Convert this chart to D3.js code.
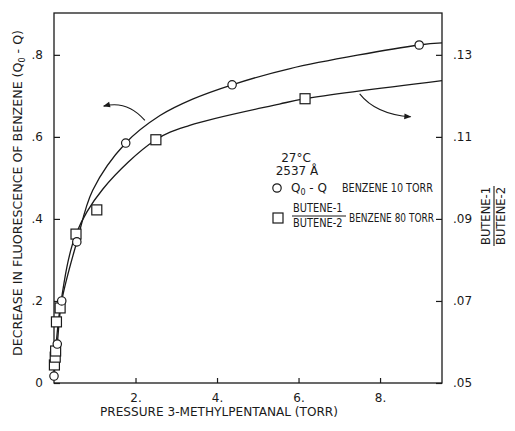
<!DOCTYPE html>
<html>
<head>
<meta charset="utf-8">
<script src="https://cdn.jsdelivr.net/npm/d3@7"></script>
<style>
  body { margin: 0; background: #fff; }
  text { font-family: "DejaVu Sans", sans-serif; fill: #1a1a1a; }
</style>
</head>
<body>
<div id="chart"></div>
<script>
// tick values
var pressureTicks = [2, 4, 6, 8];
var fluorTicks = [0, 0.2, 0.4, 0.6, 0.8];
var ratioTicks = [0.05, 0.07, 0.09, 0.11, 0.13];

// circles: Q0 - Q, benzene 10 torr (left axis)
var circlePressure = [0.0, 0.08, 0.19, 0.56, 1.76, 4.37, 8.96];
var circleFluor    = [0.017, 0.095, 0.20, 0.344, 0.585, 0.727, 0.824];

// squares: butene-1 / butene-2, benzene 80 torr (right axis)
var squarePressure = [0.01, 0.03, 0.04, 0.06, 0.15, 0.54, 1.05, 2.5, 6.16];
var squareRatio    = [0.0544, 0.0563, 0.0578, 0.0649, 0.0683, 0.0863, 0.0922, 0.1093, 0.1193];

// drawn curves
var fluorCurveP = [0, 0.08, 0.19, 0.56, 0.95, 1.76, 2.6, 3.4, 4.37, 5.77, 8.96, 9.52];
var fluorCurveV = [0.017, 0.095, 0.20, 0.344, 0.47, 0.585, 0.652, 0.692, 0.727, 0.766, 0.824, 0.829];
var ratioCurveP = [0, 0.15, 0.54, 1.2, 2.5, 3.33, 5.53, 6.16, 9.52];
var ratioCurveV = [0.0515, 0.0683, 0.0863, 0.0973, 0.1093, 0.1128, 0.118, 0.1193, 0.1237];

var width = 515, height = 431;
var plotLeft = 54, plotRight = 442, plotTop = 13, plotBottom = 383;

var svg = d3.select("#chart").append("svg").attr("width", width).attr("height", height);

var x = d3.scaleLinear().domain([0, 9.52]).range([plotLeft, plotRight]);
var yL = d3.scaleLinear().domain([0, 0.902]).range([plotBottom, plotTop]);
var yR = d3.scaleLinear().domain([0.05, 0.1402]).range([plotBottom, plotTop]);

//Frame
svg.append("rect").attr("x", plotLeft).attr("y", plotTop).attr("width", plotRight - plotLeft).attr("height", plotBottom - plotTop)
  .style("fill", "none").style("stroke", "#1a1a1a").style("stroke-width", 1.3);

//Axes, ticks pointing inwards
var xAxis = d3.axisBottom(x).tickValues(pressureTicks).tickSize(-5).tickPadding(10)
  .tickFormat(function(d){ return d + "."; });
var lAxis = d3.axisLeft(yL).tickValues(fluorTicks).tickSize(-6).tickPadding(11)
  .tickFormat(function(d){ return d == 0 ? "0" : d3.format(".1f")(d).replace(/^0/, ""); });
var rAxis = d3.axisRight(yR).tickValues(ratioTicks).tickSize(-6).tickPadding(11)
  .tickFormat(function(d){ return d3.format(".2f")(d).replace(/^0/, ""); });

function styleAxis(g){
  g.select(".domain").remove();
  g.selectAll("line").style("stroke", "#1a1a1a").style("stroke-width", 1.2);
  g.selectAll("text").style("font-size", "12px").attr("font-family", null);
}
svg.append("g").attr("transform", "translate(0," + plotBottom + ")").call(xAxis).call(styleAxis);
svg.append("g").attr("transform", "translate(" + plotLeft + ",0)").call(lAxis).call(styleAxis);
svg.append("g").attr("transform", "translate(" + plotRight + ",0)").call(rAxis).call(styleAxis);

//Curves
var fluorLine = d3.line().x(function(d){ return x(d[0]); }).y(function(d){ return yL(d[1]); }).curve(d3.curveCatmullRom.alpha(0.5));
var ratioLine = d3.line().x(function(d){ return x(d[0]); }).y(function(d){ return yR(d[1]); }).curve(d3.curveCatmullRom.alpha(0.5));

svg.append("path").datum(d3.zip(fluorCurveP, fluorCurveV)).attr("d", fluorLine)
  .style("fill", "none").style("stroke", "#1a1a1a").style("stroke-width", 1.3);
svg.append("path").datum(d3.zip(ratioCurveP, ratioCurveV)).attr("d", ratioLine)
  .style("fill", "none").style("stroke", "#1a1a1a").style("stroke-width", 1.3);

//Markers
svg.selectAll(".sq").data(d3.zip(squarePressure, squareRatio)).enter().append("rect")
  .attr("class", "sq")
  .attr("x", function(d){ return x(d[0]) - 5; }).attr("y", function(d){ return yR(d[1]) - 5; })
  .attr("width", 10).attr("height", 10)
  .style("fill", "#fff").style("stroke", "#1a1a1a").style("stroke-width", 1.2);
svg.selectAll(".ci").data(d3.zip(circlePressure, circleFluor)).enter().append("circle")
  .attr("class", "ci")
  .attr("cx", function(d){ return x(d[0]); }).attr("cy", function(d){ return yL(d[1]); }).attr("r", 4.2)
  .style("fill", "#fff").style("stroke", "#1a1a1a").style("stroke-width", 1.2);

//Arrows pointing to the axis each curve belongs to
svg.append("defs").append("marker").attr("id", "head").attr("viewBox", "0 0 10 10")
  .attr("refX", 9).attr("refY", 5).attr("markerWidth", 9).attr("markerHeight", 7).attr("orient", "auto")
  .attr("markerUnits", "userSpaceOnUse")
  .append("path").attr("d", "M0,1 L10,5 L0,9 Z").style("fill", "#1a1a1a");

var arrowUp = [[2.23, 0.64], [1.8, 0.69], [1.22, 0.675]];
var arrowDown = [[7.5, 0.705], [7.9, 0.655], [8.75, 0.649]];
function arrowPath(a){
  return "M" + x(a[0][0]) + "," + yL(a[0][1]) + " Q" + x(a[1][0]) + "," + yL(a[1][1]) + " " + x(a[2][0]) + "," + yL(a[2][1]);
}
[arrowUp, arrowDown].forEach(function(a){
  svg.append("path").attr("d", arrowPath(a)).attr("marker-end", "url(#head)")
    .style("fill", "none").style("stroke", "#1a1a1a").style("stroke-width", 1.1);
});

//Legend block, narrow lettering done with a horizontal squeeze
function narrow(g, px, py, sx, label){
  return g.append("text").attr("transform", "translate(" + px + "," + py + ") scale(" + sx + ",1)").text(label);
}
var lg = svg.append("g").style("font-size", "12.5px");
lg.append("text").attr("x", 296).attr("y", 162).attr("text-anchor", "middle").style("font-size", "12px").text("27°C");
lg.append("text").attr("x", 297).attr("y", 175).attr("text-anchor", "middle").style("font-size", "12px").text("2537 Å");

lg.append("circle").attr("cx", 277).attr("cy", 188).attr("r", 4.2)
  .style("fill", "#fff").style("stroke", "#1a1a1a").style("stroke-width", 1.2);
var t1 = lg.append("text").attr("x", 291).attr("y", 192).style("font-size", "12px");
t1.append("tspan").text("Q");
t1.append("tspan").attr("font-size", "8px").attr("dy", 3).text("0");
t1.append("tspan").attr("dy", -3).text(" - Q");
narrow(lg, 342, 192, 0.77, "BENZENE 10 TORR");

lg.append("rect").attr("x", 273).attr("y", 213).attr("width", 10).attr("height", 10)
  .style("fill", "#fff").style("stroke", "#1a1a1a").style("stroke-width", 1.2);
narrow(lg, 293, 212, 0.82, "BUTENE-1").style("font-size", "12px");
lg.append("line").attr("x1", 292).attr("x2", 346).attr("y1", 216).attr("y2", 216)
  .style("stroke", "#1a1a1a").style("stroke-width", 1.1);
narrow(lg, 293, 227, 0.82, "BUTENE-2").style("font-size", "12px");
narrow(lg, 349, 222, 0.72, "BENZENE 80 TORR");

//Axis titles
svg.append("text").attr("x", 100).attr("y", 416).attr("textLength", 238).attr("lengthAdjust", "spacingAndGlyphs")
  .style("font-size", "12.5px").text("PRESSURE 3-METHYLPENTANAL (TORR)");

var yt = svg.append("text").attr("transform", "translate(22,356) rotate(-90)")
  .attr("textLength", 326).attr("lengthAdjust", "spacingAndGlyphs").style("font-size", "12.5px");
yt.append("tspan").text("DECREASE IN FLUORESCENCE OF BENZENE (Q");
yt.append("tspan").attr("font-size", "8px").attr("dy", 3).text("0");
yt.append("tspan").attr("dy", -3).text(" - Q)");

var rt = svg.append("g").attr("transform", "translate(494,216) rotate(-90)").style("font-size", "12px");
rt.append("text").attr("x", -29).attr("y", -4).attr("textLength", 58).attr("lengthAdjust", "spacingAndGlyphs").text("BUTENE-1");
rt.append("line").attr("x1", -30).attr("x2", 30).attr("y1", 0).attr("y2", 0)
  .style("stroke", "#1a1a1a").style("stroke-width", 1.1);
rt.append("text").attr("x", -29).attr("y", 11).attr("textLength", 58).attr("lengthAdjust", "spacingAndGlyphs").text("BUTENE-2");
</script>
</body>
</html>
